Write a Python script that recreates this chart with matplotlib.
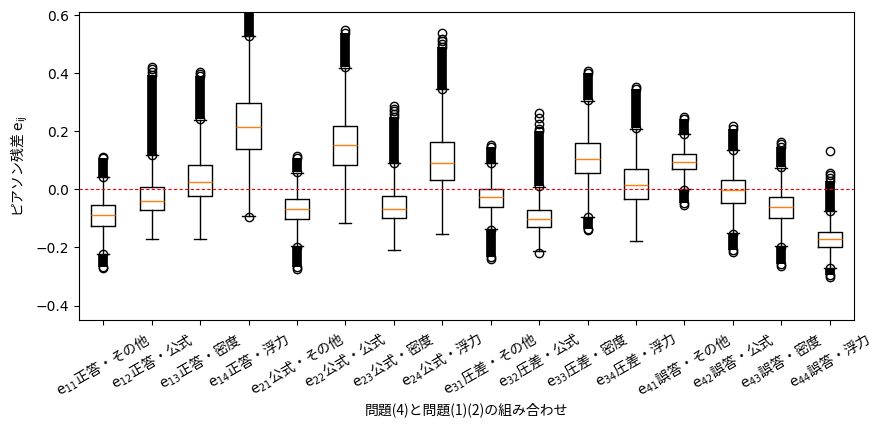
import matplotlib
matplotlib.use('Agg')
import matplotlib.pyplot as plt
import numpy as np

plt.rcParams['font.family'] = ['DejaVu Sans', 'Noto Sans CJK JP']
plt.rcParams['mathtext.fontset'] = 'custom'
plt.rcParams['mathtext.rm'] = 'DejaVu Sans'
JP = ['Noto Sans CJK JP', 'DejaVu Sans']

labels = [r'$\mathrm{e_{11}}$正答・その他', r'$\mathrm{e_{12}}$正答・公式',
          r'$\mathrm{e_{13}}$正答・密度', r'$\mathrm{e_{14}}$正答・浮力',
          r'$\mathrm{e_{21}}$公式・その他', r'$\mathrm{e_{22}}$公式・公式',
          r'$\mathrm{e_{23}}$公式・密度', r'$\mathrm{e_{24}}$公式・浮力',
          r'$\mathrm{e_{31}}$圧差・その他', r'$\mathrm{e_{32}}$圧差・公式',
          r'$\mathrm{e_{33}}$圧差・密度', r'$\mathrm{e_{34}}$圧差・浮力',
          r'$\mathrm{e_{41}}$誤答・その他', r'$\mathrm{e_{42}}$誤答・公式',
          r'$\mathrm{e_{43}}$誤答・密度', r'$\mathrm{e_{44}}$誤答・浮力']

med = [-0.088, -0.040, 0.024, 0.216, -0.069, 0.152, -0.067, 0.092,
       -0.026, -0.102, 0.106, 0.014, 0.095, -0.002, -0.060, -0.171]
q1 = [-0.125, -0.072, -0.024, 0.141, -0.103, 0.083, -0.100, 0.031,
      -0.059, -0.128, 0.055, -0.032, 0.072, -0.045, -0.097, -0.200]
q3 = [-0.055, 0.007, 0.083, 0.299, -0.034, 0.220, -0.022, 0.162,
      0.003, -0.072, 0.159, 0.069, 0.121, 0.033, -0.025, -0.148]
whislo = [-0.222, -0.172, -0.172, -0.092, -0.196, -0.114, -0.209, -0.152,
          -0.137, -0.213, -0.094, -0.178, 0.000, -0.150, -0.195, -0.270]
whishi = [0.042, 0.118, 0.240, 0.528, 0.058, 0.420, 0.090, 0.345,
          0.090, 0.010, 0.305, 0.210, 0.190, 0.135, 0.075, -0.075]

# dense runs of outliers (drawn as a solid column), above / below whiskers
band_hi = [(0.044, 0.108), (0.120, 0.395), (0.242, 0.390), (0.530, 0.750),
           (0.060, 0.110), (0.422, 0.540), (0.092, 0.250), (0.347, 0.490),
           (0.092, 0.148), (0.012, 0.200), (0.307, 0.400), (0.212, 0.345),
           (0.192, 0.242), (0.137, 0.210), (0.077, 0.145), (-0.073, 0.030)]
band_lo = [(-0.268, -0.224), None, None, None,
           (-0.268, -0.198), None, None, None,
           (-0.232, -0.139), None, (-0.135, -0.096), None,
           (-0.046, -0.002), (-0.210, -0.152), (-0.258, -0.197), (-0.296, -0.272)]
# sparse outliers beyond the dense runs
fliers_extra = [[0.112, -0.272], [0.405, 0.415, 0.422], [0.398, 0.405], [-0.095],
                [0.116, -0.274], [0.548], [0.260, 0.270, 0.278, 0.286], [0.500, 0.510, 0.520, 0.540],
                [0.153, -0.238], [0.210, 0.225, 0.245, 0.262, -0.218], [0.408, -0.140], [0.352],
                [0.248, -0.052], [0.218, -0.217], [0.155, 0.164, -0.264], [0.040, 0.050, 0.057, 0.131, -0.301]]


def main():
    fig = plt.figure(figsize=(8.83, 4.29), dpi=100)
    ax = fig.add_axes([0.0895, 0.254, 0.8775, 0.717])

    stats = []
    for i in range(len(labels)):
        fl = list(fliers_extra[i])
        for b in (band_hi[i], band_lo[i]):
            if b is not None:
                fl += [b[0], b[1]]
        stats.append({'med': med[i], 'q1': q1[i], 'q3': q3[i],
                      'whislo': whislo[i], 'whishi': whishi[i],
                      'fliers': np.array(fl)})

    pos = np.arange(1, len(labels) + 1)
    for i, x in enumerate(pos):
        for b in (band_hi[i], band_lo[i]):
            if b is not None:
                ax.vlines(x, b[0], b[1], colors='k', linewidth=7, capstyle='butt')

    ax.bxp(stats, positions=pos)
    ax.axhline(0, color='red', linestyle=(0, (3, 2)), linewidth=0.8, zorder=3)

    ax.set_xticks(pos)
    ax.set_xticklabels(labels, rotation=30, fontfamily=JP, fontsize=10)
    ax.set_xlim(0.5, 16.5)
    ax.set_ylim(-0.45, 0.61)
    ax.set_xlabel('問題(4)と問題(1)(2)の組み合わせ', fontfamily=JP, labelpad=2)
    ax.set_ylabel(r'ピアソン残差 $\mathrm{e_{ij}}$', fontfamily=JP)

    fig.savefig('out.png')


if __name__ == "__main__":
    main()
